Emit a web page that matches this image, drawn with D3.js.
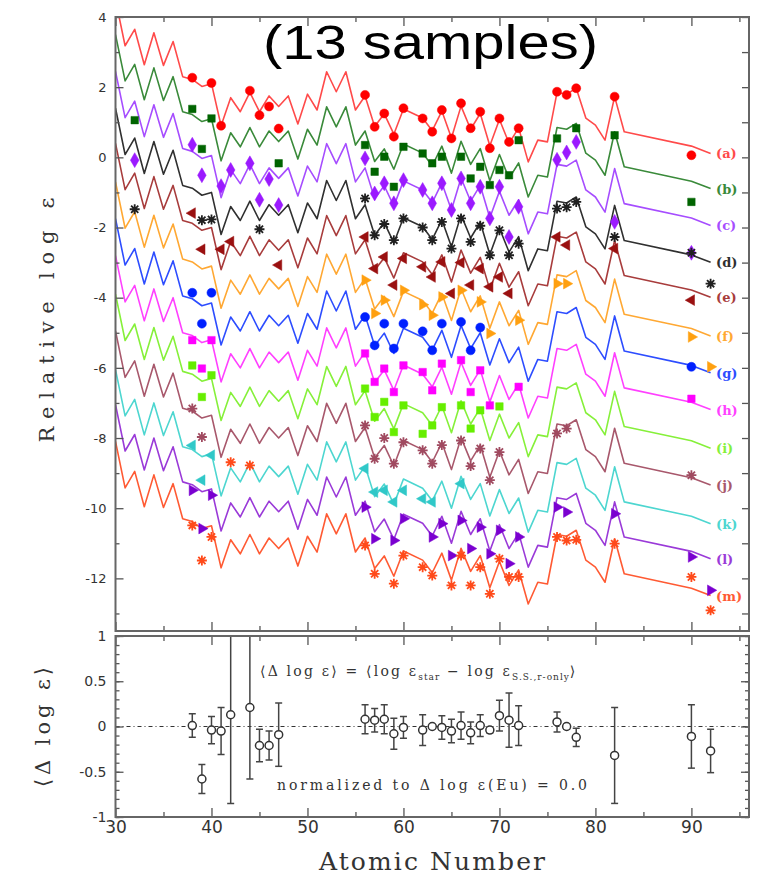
<!DOCTYPE html>
<html>
<head>
<meta charset="utf-8">
<script src="https://cdn.jsdelivr.net/npm/d3@7"></script>
<style>
body { margin: 0; background: #fff; }
svg { display: block; }
</style>
</head>
<body>
<svg id="chart" width="766" height="875"></svg>
<script>
// scaled solar r-process pattern (series (a) level)
var patternZ = [30,31,32,33,34,35,36,37,38,39,40,41,42,43,44,45,46,47,48,49,50,51,52,53,54,55,
	56,57,58,59,60,62,63,64,65,66,67,68,69,70,71,72,73,74,75,76,77,78,79,80,81,82,83,90,92];
var patternLog = [4.5,3.18,3.65,2.64,3.55,2.62,3.3,2.3,2.22,2.02,2.1,0.9,1.7,1.3,1.85,1.3,1.75,1.45,1.75,0.95,1.8,1.35,2.44,1.87,2.44,1.35,
	1.75,0.88,1.24,0.66,1.38,1.12,0.76,1.32,0.55,1.46,0.8,1.25,0.33,1.08,0.4,0.84,-0.13,0.49,0.44,1.85,1.8,1.97,1.12,0.92,0.49,1.73,0.73,0.32,0.11];

var seriesLabels = ["(a)","(b)","(c)","(d)","(e)","(f)","(g)","(h)","(i)","(j)","(k)","(l)","(m)"];
var seriesOffsets = [0,-1.0,-2.05,-3.1,-4.1,-5.2,-6.25,-7.3,-8.4,-9.45,-10.55,-11.55,-12.6];

var starA = [[38,2.27],[40,2.12],[41,0.9],[44,1.9],[45,1.2],[46,1.45],[47,0.82],[56,1.78],[57,0.87],[58,1.25],[59,0.59],
	[60,1.4],[62,1.11],[63,0.73],[64,1.35],[65,0.54],[66,1.54],[67,0.83],[68,1.3],[69,0.26],[70,1.11],[71,0.44],[72,0.83],
	[76,1.87],[77,1.78],[78,1.97],[82,1.73],[90,0.06]];
var starB = [[32,1.06],[38,1.38],[39,0.24],[40,1.11],[47,-0.17],[56,0.35],[57,-0.41],[58,0.02],[59,-0.84],[60,0.3],[62,0.11],
	[63,-0.17],[64,0.02],[66,0.02],[67,-0.6],[68,-0.27],[69,-0.79],[70,-0.36],[71,-0.51],[72,0.49],[76,0.54],[78,0.83],[82,0.63],[90,-1.27]];
var starC = [[32,-0.08],[38,0.36],[39,-0.51],[41,-0.82],[42,-0.36],[44,-0.17],[45,-1.21],[46,-0.62],[47,-1.36],[56,-0.03],[57,-1.03],
	[58,-0.74],[59,-1.31],[60,-0.65],[62,-0.93],[63,-1.31],[64,-0.74],[65,-1.5],[66,-0.6],[67,-1.31],[68,-0.84],[69,-1.74],[70,-0.84],
	[71,-2.27],[72,-1.41],[76,-0.07],[77,0.14],[78,0.44],[82,-1.84],[90,-2.72]];
var starD = [[32,-1.48],[39,-1.79],[40,-1.77],[45,-2.05],[56,-1.17],[57,-2.22],[58,-1.9],[59,-2.36],[60,-1.74],[62,-2.0],[63,-2.36],
	[64,-1.84],[65,-2.6],[66,-1.74],[67,-2.41],[68,-1.95],[69,-2.79],[70,-2.08],[71,-2.79],[72,-2.46],[76,-1.46],[77,-1.42],[78,-1.27],
	[82,-2.27],[90,-2.72],[92,-3.6]];
var starE = [[38,-1.59],[39,-2.62],[41,-2.62],[42,-2.4],[47,-3.07],[56,-2.27],[57,-3.17],[58,-2.84],[59,-3.64],[60,-2.88],[62,-3.12],
	[63,-3.41],[64,-2.98],[65,-3.88],[66,-3.0],[67,-3.64],[68,-3.17],[69,-3.69],[70,-3.41],[71,-3.88],[76,-2.27],[77,-2.5],[82,-2.6],[90,-4.07]];
var starF = [[56,-3.5],[57,-4.45],[58,-4.07],[60,-3.79],[62,-4.2],[63,-4.5],[64,-3.98],[66,-3.79],[68,-4.12],[69,-5.02],[72,-4.64],
	[76,-3.6],[77,-3.6],[90,-5.12],[92,-5.97]];
var starG = [[38,-3.86],[39,-4.74],[40,-3.86],[56,-4.55],[57,-5.36],[58,-4.74],[59,-5.45],[60,-4.74],[62,-4.96],[63,-5.5],[64,-4.74],
	[66,-4.69],[67,-5.5],[68,-4.85],[90,-5.97]];
var starH = [[38,-5.21],[39,-6.02],[40,-5.21],[56,-5.59],[57,-6.4],[58,-6.02],[59,-6.69],[60,-5.93],[62,-6.12],[63,-6.64],[64,-5.88],
	[66,-5.78],[67,-6.69],[68,-6.07],[69,-7.07],[72,-6.54],[90,-6.88]];
var starI = [[38,-5.93],[39,-6.83],[40,-6.21],[56,-6.59],[57,-7.4],[58,-6.97],[59,-7.83],[60,-7.07],[62,-7.88],[63,-7.64],[64,-7.12],
	[66,-7.07],[67,-7.73],[68,-7.21],[70,-7.1]];
var starJ = [[38,-7.16],[39,-7.97],[56,-7.64],[57,-8.59],[58,-8.0],[59,-8.73],[60,-8.12],[62,-8.35],[63,-8.73],[64,-8.2],[66,-8.07],
	[67,-8.8],[68,-8.3],[69,-9.2],[70,-8.4],[76,-7.87],[77,-7.73],[90,-9.06]];
var starK = [[38,-8.21],[39,-9.2],[40,-8.49],[56,-8.87],[57,-9.54],[58,-9.49],[59,-9.82],[60,-9.49],[62,-9.73],[63,-9.82],[66,-9.3]];
var starL = [[38,-9.49],[39,-10.58],[40,-9.63],[56,-9.97],[57,-10.87],[59,-10.92],[60,-10.3],[63,-10.82],[64,-10.44],[65,-11.35],
	[66,-10.35],[67,-11.15],[68,-10.54],[69,-11.3],[70,-10.63],[71,-11.58],[72,-10.82],[76,-9.97],[77,-10.11],[82,-10.16],[90,-11.39],[92,-12.34]];
var starM = [[38,-10.49],[39,-11.49],[40,-10.82],[42,-8.69],[44,-8.78],[56,-11.06],[57,-11.87],[59,-12.15],[60,-11.35],[62,-11.68],
	[63,-11.92],[65,-12.2],[66,-11.35],[67,-12.2],[68,-11.68],[69,-12.44],[70,-11.44],[71,-11.96],[72,-11.96],[76,-10.82],[77,-10.92],
	[78,-10.9],[82,-11.01],[90,-11.96],[92,-12.91]];
var stars = [starA,starB,starC,starD,starE,starF,starG,starH,starI,starJ,starK,starL,starM];

// mean residuals, bottom panel
var resZ    = [38,39,40,41,42,44,45,46,47,56,57,58,59,60,62,63,64,65,66,67,68,69,70,71,72,76,77,78,82,90,92];
var resMean = [0.01,-0.58,-0.04,-0.05,0.13,0.21,-0.21,-0.21,-0.09,0.08,0.07,0.08,-0.08,-0.01,-0.04,0.0,-0.01,-0.05,0.01,-0.07,
	0.01,-0.04,0.12,0.07,0.01,0.05,0.0,-0.12,-0.32,-0.11,-0.27];
var resErr  = [0.13,0.16,0.15,0.26,0.98,0.79,0.18,0.16,0.35,0.16,0.13,0.16,0.17,0.12,0.17,0,0.13,0.13,0.15,0.12,
	0.12,0.03,0.17,0.3,0.22,0.11,0.03,0.1,0.53,0.35,0.24];

var lineColors   = ["#ff4a4a","#3a8a3a","#a64dff","#303030","#a83c3c","#ffa833","#2d4dff","#ff40ff","#86f03a","#a8586c","#4dd6d0","#9a3ad8","#ff5a33"];
var markerColors = ["#ff0000","#006400","#9b1aff","#202020","#9a1010","#ffa010","#0020ff","#ff00ff","#66ee00","#a04a60","#30c8c8","#7a00d0","#ff4a1a"];
var markerShapes = ["circle","square","diamond","asterisk","tri-left","tri-right","circle","square","square","asterisk","tri-left","tri-right","asterisk"];

var svg = d3.select("#chart");
var x = d3.scaleLinear().domain([30, 96]).range([115.5, 749]);
var yTop = d3.scaleLinear().domain([-13.5, 4]).range([631, 17]);
var yBot = d3.scaleLinear().domain([-1, 1]).range([817, 636]);

var defs = svg.append("defs");
defs.append("clipPath").attr("id", "clipTop").append("rect")
	.attr("x", 115.5).attr("y", 17).attr("width", 749 - 115.5).attr("height", 631 - 17);
defs.append("clipPath").attr("id", "clipBot").append("rect")
	.attr("x", 115.5).attr("y", 636).attr("width", 749 - 115.5).attr("height", 817 - 636);

function markerPath(shape) {
	if (shape == "circle") return d3.symbol(d3.symbolCircle, 64)();
	if (shape == "square") return d3.symbol(d3.symbolSquare, 56)();
	if (shape == "diamond") return d3.symbol(d3.symbolDiamond, 64)();
	if (shape == "tri-left" || shape == "tri-right") return d3.symbol(d3.symbolTriangle, 50)();
	var r = 5, q = 3.6;
	return "M" + (-r) + ",0L" + r + ",0M0," + (-r) + "L0," + r +
		"M" + (-q) + "," + (-q) + "L" + q + "," + q + "M" + (-q) + "," + q + "L" + q + "," + (-q);
}

// top panel
var topG = svg.append("g").attr("clip-path", "url(#clipTop)");
var line = d3.line().x(function(d) { return x(d[0]); }).y(function(d) { return yTop(d[1]); });

stars.forEach(function(star, i) {
	var pts = patternZ.map(function(z, k) { return [z, patternLog[k] + seriesOffsets[i]]; });
	topG.append("path")
		.attr("d", line(pts))
		.attr("fill", "none")
		.attr("stroke", lineColors[i])
		.attr("stroke-width", 1.6)
		.attr("stroke-linejoin", "round");
});

stars.forEach(function(star, i) {
	var shape = markerShapes[i];
	var rot = shape == "tri-left" ? -90 : (shape == "tri-right" ? 90 : 0);
	var asterisk = shape == "asterisk";
	topG.selectAll(null)
		.data(star)
		.enter()
		.append("path")
		.attr("transform", function(d) { return "translate(" + x(d[0]) + "," + yTop(d[1]) + ") rotate(" + rot + ")"; })
		.attr("d", markerPath(shape))
		.attr("fill", asterisk ? "none" : markerColors[i])
		.attr("stroke", markerColors[i])
		.attr("stroke-width", asterisk ? 1.8 : 0.5);
});

svg.selectAll(".slabel")
	.data(seriesLabels)
	.enter()
	.append("text")
	.attr("class", "slabel")
	.attr("x", 716)
	.attr("y", function(d, i) { return yTop(patternLog[patternLog.length - 1] + seriesOffsets[i]) + 5; })
	.attr("fill", function(d, i) { return lineColors[i]; })
	.style("font-family", "DejaVu Serif")
	.style("font-size", "13px")
	.style("font-weight", "bold")
	.text(function(d) { return d; });

// bottom panel
var botG = svg.append("g").attr("clip-path", "url(#clipBot)");
botG.append("line")
	.attr("x1", 115.5).attr("x2", 749)
	.attr("y1", yBot(0)).attr("y2", yBot(0))
	.attr("stroke", "#333")
	.attr("stroke-width", 1)
	.attr("stroke-dasharray", "4,3,1,3");

var res = resZ.map(function(z, k) { return {z: z, m: resMean[k], e: resErr[k]}; });
var eb = botG.selectAll(".eb").data(res).enter().append("g").attr("class", "eb");
eb.filter(function(d) { return d.e > 0; }).append("line")
	.attr("x1", function(d) { return x(d.z); }).attr("x2", function(d) { return x(d.z); })
	.attr("y1", function(d) { return yBot(d.m - d.e); }).attr("y2", function(d) { return yBot(d.m + d.e); })
	.attr("stroke", "#444").attr("stroke-width", 1.5);
[-1, 1].forEach(function(s) {
	eb.filter(function(d) { return d.e > 0; }).append("line")
		.attr("x1", function(d) { return x(d.z) - 3.5; }).attr("x2", function(d) { return x(d.z) + 3.5; })
		.attr("y1", function(d) { return yBot(d.m + s * d.e); }).attr("y2", function(d) { return yBot(d.m + s * d.e); })
		.attr("stroke", "#444").attr("stroke-width", 1.5);
});
eb.append("circle")
	.attr("cx", function(d) { return x(d.z); })
	.attr("cy", function(d) { return yBot(d.m); })
	.attr("r", 4)
	.attr("fill", "#fff")
	.attr("stroke", "#333")
	.attr("stroke-width", 1.5);

// axes
var xMajor = [30,40,50,60,70,80,90];
var xMinor = [35,45,55,65,75,85,95];

function styleAxis(g) {
	g.select(".domain").remove();
	g.selectAll(".tick line").attr("stroke", "#555").attr("stroke-width", 1.3);
	g.selectAll(".tick text").attr("fill", "#333").style("font-family", "DejaVu Sans");
}

function addX(yPos, isTop, labels) {
	var mk = isTop ? d3.axisTop : d3.axisBottom;
	svg.append("g").attr("transform", "translate(0," + yPos + ")")
		.call(mk(x).tickValues(xMajor).tickSize(-9).tickPadding(4).tickFormat(labels ? d3.format("d") : ""))
		.call(styleAxis)
		.selectAll("text").style("font-size", "17px");
	svg.append("g").attr("transform", "translate(0," + yPos + ")")
		.call(mk(x).tickValues(xMinor).tickSize(-5).tickFormat(""))
		.call(styleAxis);
}

addX(17, true, false);
addX(631, false, false);
addX(636, true, false);
addX(817, false, true);

svg.append("g").attr("transform", "translate(115.5,0)")
	.call(d3.axisLeft(yTop).tickValues(d3.range(-12, 5, 2)).tickSize(-8).tickPadding(9).tickFormat(function(d) { return String(d); }))
	.call(styleAxis)
	.selectAll("text").style("font-size", "13px");
svg.append("g").attr("transform", "translate(115.5,0)")
	.call(d3.axisLeft(yTop).tickValues(d3.range(-13, 4, 2)).tickSize(-4).tickFormat(""))
	.call(styleAxis);
svg.append("g").attr("transform", "translate(749,0)")
	.call(d3.axisRight(yTop).tickValues(d3.range(-13, 5, 1)).tickSize(-7).tickFormat(""))
	.call(styleAxis);

svg.append("g").attr("transform", "translate(115.5,0)")
	.call(d3.axisLeft(yBot).tickValues([-1, -0.5, 0, 0.5, 1]).tickSize(-8).tickPadding(9).tickFormat(function(d) { return String(d); }))
	.call(styleAxis)
	.selectAll("text").style("font-size", "14px");
var botMinor = d3.range(-10, 11).map(function(k) { return k / 10; });
svg.append("g").attr("transform", "translate(115.5,0)")
	.call(d3.axisLeft(yBot).tickValues(botMinor).tickSize(-4).tickFormat(""))
	.call(styleAxis);
svg.append("g").attr("transform", "translate(749,0)")
	.call(d3.axisRight(yBot).tickValues([-1, -0.5, 0, 0.5, 1]).tickSize(-8).tickFormat(""))
	.call(styleAxis);
svg.append("g").attr("transform", "translate(749,0)")
	.call(d3.axisRight(yBot).tickValues(botMinor).tickSize(-4).tickFormat(""))
	.call(styleAxis);

// frames
[[17, 631], [636, 817]].forEach(function(p) {
	svg.append("rect")
		.attr("x", 115.5).attr("y", p[0])
		.attr("width", 749 - 115.5).attr("height", p[1] - p[0])
		.attr("fill", "none").attr("stroke", "#666").attr("stroke-width", 2);
});

// texts
svg.append("text")
	.attr("x", 263).attr("y", 59)
	.attr("textLength", 335).attr("lengthAdjust", "spacingAndGlyphs")
	.style("font-family", "Liberation Sans").style("font-size", "48px")
	.attr("fill", "#000")
	.text("(13 samples)");

svg.append("text")
	.attr("transform", "translate(54,320) rotate(-90)")
	.attr("text-anchor", "middle")
	.attr("textLength", 245)
	.style("font-family", "DejaVu Serif").style("font-size", "21px")
	.attr("fill", "#333")
	.text("Relative log \u03b5");

svg.append("text")
	.attr("transform", "translate(50,727) rotate(-90)")
	.attr("text-anchor", "middle")
	.attr("textLength", 120)
	.style("font-family", "DejaVu Serif").style("font-size", "21px")
	.attr("fill", "#333")
	.text("\u27e8\u0394 log \u03b5\u27e9");

svg.append("text")
	.attr("x", 432).attr("y", 870)
	.attr("text-anchor", "middle")
	.attr("textLength", 226)
	.style("font-family", "DejaVu Serif").style("font-size", "25px")
	.attr("fill", "#333")
	.text("Atomic Number");

var eq = svg.append("text")
	.attr("x", 260).attr("y", 676)
	.style("font-family", "DejaVu Serif").style("font-size", "14px")
	.style("letter-spacing", "2.2px")
	.attr("fill", "#333");
eq.append("tspan").text("\u27e8\u0394 log \u03b5\u27e9 = \u27e8log \u03b5");
eq.append("tspan").attr("dy", 4).style("font-size", "9px").style("letter-spacing", "1px").text("star");
eq.append("tspan").attr("dy", -4).text(" \u2212 log \u03b5");
eq.append("tspan").attr("dy", 4).style("font-size", "9px").style("letter-spacing", "1px").text("S.S.,r-only");
eq.append("tspan").attr("dy", -4).text("\u27e9");

svg.append("text")
	.attr("x", 277).attr("y", 790)
	.attr("textLength", 310)
	.style("font-family", "DejaVu Serif").style("font-size", "14px")
	.attr("fill", "#333")
	.text("normalized to \u0394 log \u03b5(Eu) = 0.0");
</script>
</body>
</html>
